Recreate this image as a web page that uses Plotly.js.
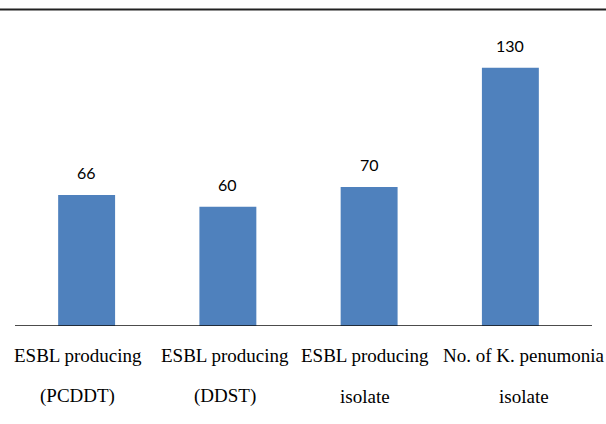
<!DOCTYPE html>
<html><head><meta charset="utf-8">
<script src="https://cdn.plot.ly/plotly-3.0.1.min.js"></script>
<style>html,body{margin:0;padding:0;background:#fff}</style>
</head><body><div id="chart" style="width:606px;height:424px"></div>
<script>
const categories = ["PCDDT", "DDST", "ESBL isolate", "K. penumonia isolate"];
const labelLine1 = ["ESBL producing", "ESBL producing", "ESBL producing", "No. of K. penumonia"];
const labelLine2 = ["(PCDDT)", "(DDST)", "isolate", "isolate"];
const values = [66, 60, 70, 130];

const labelShift = [-9, -3, -4, 14];
const serif = "Liberation Serif, serif";
const sans = "Lato, Liberation Sans, sans-serif";

const annotations = [];
categories.forEach((c, i) => {
  annotations.push({x: c, y: values[i], xref: 'x', yref: 'y', text: String(values[i]), showarrow: false,
    yshift: 22, font: {family: sans, size: 16, color: '#000'}});
  annotations.push({x: c, y: 0, xref: 'x', yref: 'y', text: labelLine1[i], showarrow: false,
    yshift: -29, xshift: labelShift[i], font: {family: serif, size: 19, color: '#000'}});
  annotations.push({x: c, y: 0, xref: 'x', yref: 'y', text: labelLine2[i], showarrow: false,
    yshift: -70, xshift: labelShift[i], font: {family: serif, size: 19, color: '#000'}});
});

const trace = {type: 'bar', x: categories, y: values, marker: {color: '#4F81BD'}, hoverinfo: 'none'};
const layout = {
  width: 606, height: 424,
  margin: {l: 16, r: 25, t: 28, b: 98},
  paper_bgcolor: '#fff', plot_bgcolor: '#fff',
  bargap: 0.597,
  showlegend: false,
  xaxis: {showticklabels: false, showgrid: false, zeroline: false, showline: false, ticks: '', range: [-0.5, 3.5]},
  yaxis: {range: [0, 150], showticklabels: false, showgrid: false, zeroline: false, showline: false, ticks: ''},
  annotations: annotations,
  shapes: [
    {type: 'line', xref: 'paper', yref: 'paper', x0: -16/565, x1: 600/565, y0: 1.062, y1: 1.062, line: {color: '#222', width: 2}},
    {type: 'line', xref: 'paper', yref: 'y', x0: -1/565, x1: 576/565, y0: 0, y1: 0, line: {color: '#111', width: 1.5}}
  ]
};
Plotly.newPlot('chart', [trace], layout, {displayModeBar: false, staticPlot: true});
</script></body></html>
